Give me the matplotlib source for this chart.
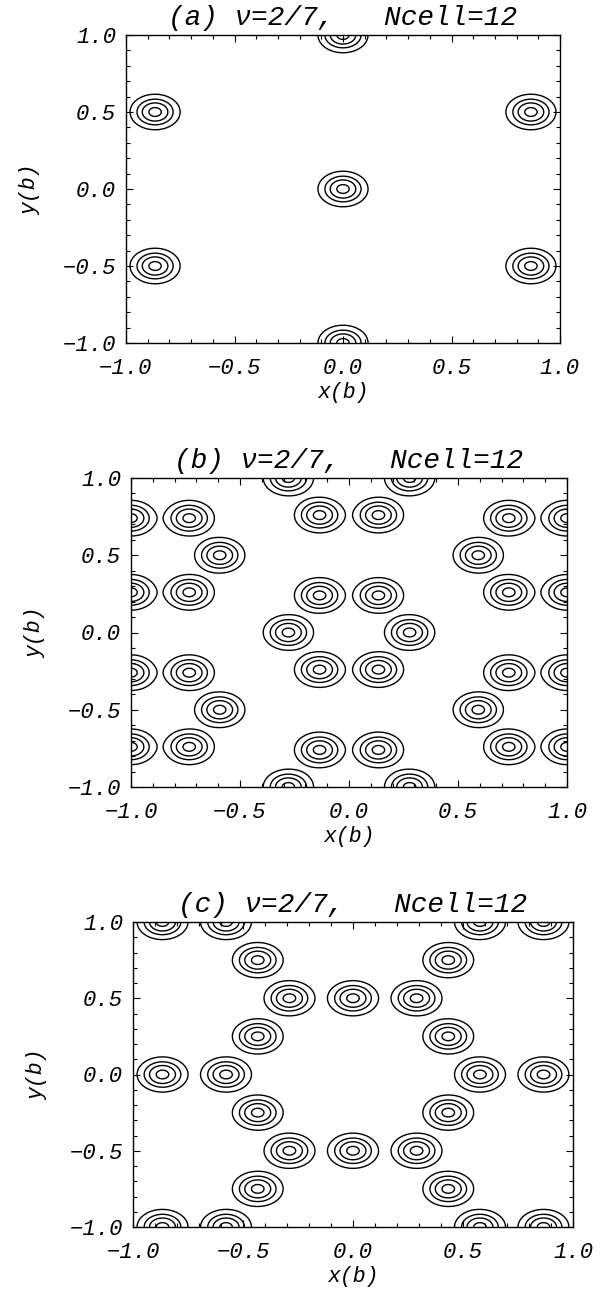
import matplotlib
matplotlib.use('Agg')
import matplotlib.pyplot as plt
from matplotlib.ticker import MultipleLocator
import numpy as np

# blob centres, in units of b
a_x = [0.0, 0.0, 0.0, -0.866, -0.866, 0.866, 0.866]
a_y = [1.0, 0.0, -1.0, 0.5, -0.5, 0.5, -0.5]

b_x = [-0.278, 0.278, -0.278, 0.278, -0.278, 0.278,
       -1.0, -0.733, 0.733, 1.0,
       -1.0, -0.733, 0.733, 1.0,
       -1.0, -0.733, 0.733, 1.0,
       -1.0, -0.733, 0.733, 1.0,
       -0.135, 0.135, -0.135, 0.135, -0.135, 0.135, -0.135, 0.135,
       -0.593, 0.593, -0.593, 0.593]
b_y = [1.0, 1.0, 0.0, 0.0, -1.0, -1.0,
       0.74, 0.74, 0.74, 0.74,
       0.26, 0.26, 0.26, 0.26,
       -0.26, -0.26, -0.26, -0.26,
       -0.74, -0.74, -0.74, -0.74,
       0.76, 0.76, 0.24, 0.24, -0.24, -0.24, -0.76, -0.76,
       0.5, 0.5, -0.5, -0.5]

c_x = [-0.866, -0.577, 0.577, 0.866,
       -0.866, -0.577, 0.577, 0.866,
       -0.866, -0.577, 0.577, 0.866,
       -0.433, 0.433, -0.433, 0.433, -0.433, 0.433, -0.433, 0.433,
       -0.289, 0.0, 0.289, -0.289, 0.0, 0.289]
c_y = [1.0, 1.0, 1.0, 1.0,
       -1.0, -1.0, -1.0, -1.0,
       0.0, 0.0, 0.0, 0.0,
       0.75, 0.75, 0.25, 0.25, -0.25, -0.25, -0.75, -0.75,
       0.5, 0.5, 0.5, -0.5, -0.5, -0.5]

titles = ['(a) \u03bd=2/7,   Ncell=12',
          '(b) \u03bd=2/7,   Ncell=12',
          '(c) \u03bd=2/7,   Ncell=12']

sigma = 0.05
levels = [0.07, 0.25, 0.5, 0.85]

fonts = ['Liberation Mono', 'DejaVu Sans Mono']
plt.rcParams['font.family'] = fonts
plt.rcParams['font.style'] = 'italic'


def density(cx, cy, X, Y):
  z = np.zeros_like(X)
  for x0, y0 in zip(cx, cy):
    z += np.exp(-((X - x0)**2 + (Y - y0)**2) / (2 * sigma**2))
  return z


def draw_panel(ax, cx, cy, title):
  g = np.linspace(-1, 1, 501)
  X, Y = np.meshgrid(g, g)
  z = density(cx, cy, X, Y)
  ax.contour(X, Y, z, levels=levels, colors='k', linewidths=1.0)
  ax.set_xlim(-1, 1)
  ax.set_ylim(-1, 1)
  ax.xaxis.set_major_locator(MultipleLocator(0.5))
  ax.yaxis.set_major_locator(MultipleLocator(0.5))
  ax.xaxis.set_minor_locator(MultipleLocator(0.1))
  ax.yaxis.set_minor_locator(MultipleLocator(0.1))
  ax.tick_params(which='both', direction='in', top=True, right=True, width=0.8)
  ax.tick_params(which='major', length=5)
  ax.tick_params(which='minor', length=3)
  ax.tick_params(axis='x', which='major', pad=11, labelsize=16)
  ax.tick_params(axis='y', which='major', pad=7, labelsize=16)
  for s in ax.spines.values():
    s.set_linewidth(1.0)
  ax.set_xlabel('x(b)', fontsize=15.5, labelpad=2)
  ax.set_ylabel('y(b)', fontsize=15.5, labelpad=16)
  ax.set_title(title, fontsize=20, pad=7)


fig = plt.figure(figsize=(6.08, 12.93), dpi=100)
W, H = 608.0, 1293.0
boxes = [(126, 35, 560, 343), (131, 478, 567, 787), (133, 922, 573, 1227)]
data = [(a_x, a_y), (b_x, b_y), (c_x, c_y)]

for (l, t, r, b), (cx, cy), title in zip(boxes, data, titles):
  ax = fig.add_axes([l / W, 1 - b / H, (r - l) / W, (b - t) / H])
  draw_panel(ax, cx, cy, title)

fig.savefig('out.png', dpi=100)
